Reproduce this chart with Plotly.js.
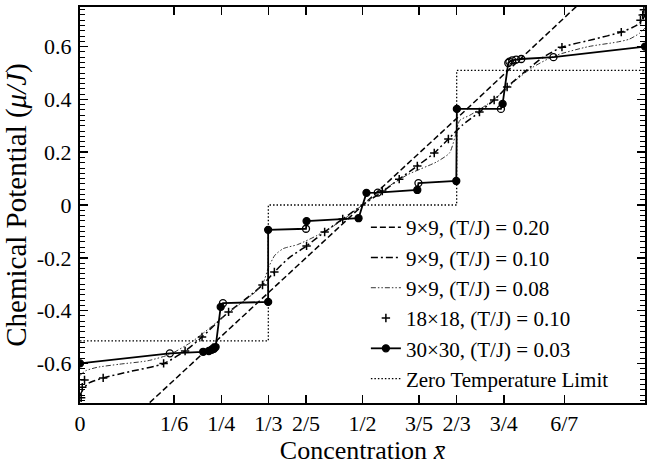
<!DOCTYPE html>
<html>
<head>
<meta charset="utf-8">
<script src="https://cdn.plot.ly/plotly-3.0.1.min.js"></script>
<style>html,body{margin:0;padding:0;background:#fff;}#chart{width:647px;height:468px;}</style>
</head>
<body>
<div id="chart"></div>
<script>
// ---- data ----
var t20_x = [0.10, 0.208, 0.353, 0.50, 0.512, 0.689, 0.90];
var t20_y = [-0.795, -0.580, -0.292, 0.0, 0.022, 0.372, 0.795];

var t10_x = [0, 0.005, 0.015, 0.041, 0.09, 0.147, 0.186, 0.216, 0.25, 0.263, 0.30, 0.323, 0.344, 0.37, 0.401, 0.433, 0.465, 0.50,
             0.535, 0.565, 0.597, 0.627, 0.652, 0.677, 0.707, 0.733, 0.756, 0.79, 0.82, 0.853, 0.91, 0.958, 0.985, 0.995, 1.0];
var t10_y = [-0.72, -0.70, -0.675, -0.655, -0.63, -0.602, -0.553, -0.50, -0.43, -0.405, -0.345, -0.303, -0.254, -0.20, -0.155, -0.102, -0.053, 0.0,
             0.05, 0.098, 0.148, 0.197, 0.25, 0.303, 0.352, 0.398, 0.447, 0.51, 0.56, 0.598, 0.628, 0.655, 0.68, 0.70, 0.72];

var t08_x = [0, 0.01, 0.03, 0.07, 0.12, 0.16, 0.20, 0.23, 0.25, 0.28, 0.31, 0.325, 0.333, 0.345, 0.36, 0.385, 0.42, 0.465, 0.50,
             0.535, 0.58, 0.631, 0.654, 0.664, 0.672, 0.69, 0.72, 0.75, 0.77, 0.80, 0.84, 0.90, 0.95, 0.972, 0.99, 1.0];
var t08_y = [-0.645, -0.628, -0.615, -0.603, -0.59, -0.565, -0.515, -0.465, -0.43, -0.38, -0.33, -0.29, -0.24, -0.19, -0.165, -0.15, -0.115, -0.057, 0.0,
             0.055, 0.115, 0.163, 0.197, 0.26, 0.32, 0.34, 0.38, 0.43, 0.47, 0.52, 0.565, 0.60, 0.617, 0.628, 0.65, 0.67];

var s18_x = [0.002, 0.004, 0.008, 0.041, 0.148, 0.186, 0.216, 0.263, 0.323, 0.344, 0.401, 0.433, 0.465, 0.535, 0.565, 0.597, 0.627, 0.652, 0.707, 0.733, 0.756, 0.853, 0.958, 0.992, 0.996, 0.998];
var s18_y = [-0.73, -0.69, -0.663, -0.655, -0.60, -0.553, -0.50, -0.405, -0.303, -0.254, -0.155, -0.102, -0.053, 0.053, 0.098, 0.148, 0.197, 0.25, 0.352, 0.398, 0.447, 0.598, 0.655, 0.70, 0.72, 0.74];

var s30_x = [0, 0.159, 0.218, 0.228, 0.233, 0.237, 0.240, 0.249, 0.253, 0.333, 0.333, 0.400, 0.401, 0.493, 0.507, 0.527, 0.597, 0.599, 0.666, 0.667,
             0.745, 0.748, 0.758, 0.760, 0.765, 0.772, 0.781, 0.838, 1.0];
var s30_y = [-0.60, -0.562, -0.556, -0.553, -0.549, -0.545, -0.538, -0.386, -0.372, -0.367, -0.094, -0.090, -0.061, -0.050, 0.046, 0.047, 0.057, 0.083, 0.091, 0.364,
             0.364, 0.383, 0.538, 0.543, 0.548, 0.551, 0.553, 0.560, 0.600];
var s30_filled = [1, 0, 1, 1, 1, 1, 1, 1, 0, 1, 1, 0, 1, 1, 1, 0, 1, 0, 1, 1, 0, 1, 0, 0, 0, 0, 0, 0, 1];

var zero_x = [0, 1/3, 1/3, 2/3, 2/3, 1];
var zero_y = [-0.515, -0.515, 0, 0, 0.51, 0.51];

var xTickVals = [0, 1/6, 1/4, 1/3, 2/5, 1/2, 3/5, 2/3, 3/4, 6/7, 1];
var xTickText = ['0', '1/6', '1/4', '1/3', '2/5', '1/2', '3/5', '2/3', '3/4', '6/7', '1'];
var yTickVals = [-0.6, -0.4, -0.2, 0, 0.2, 0.4, 0.6];
var yTickText = ['-0.6', '-0.4', '-0.2', '0', '0.2', '0.4', '0.6'];

var names = ['9\u00d79, (T/J) = 0.20', '9\u00d79, (T/J) = 0.10', '9\u00d79, (T/J) = 0.08',
             '18\u00d718, (T/J) = 0.10', '30\u00d730, (T/J) = 0.03', 'Zero Temperature Limit'];

// ---- traces ----
var traces = [
  {x: t20_x, y: t20_y, name: names[0], mode: 'lines', line: {color: '#000', width: 1.5, dash: '6px,3px'}},
  {x: t10_x, y: t10_y, name: names[1], mode: 'lines', line: {color: '#000', width: 1.5, dash: '7px,3px,2px,3px', shape: 'spline', smoothing: 0.6}},
  {x: t08_x, y: t08_y, name: names[2], mode: 'lines', line: {color: '#333', width: 1, dash: '5px,2px,1.5px,2px,1.5px,2px', shape: 'spline', smoothing: 0.6}},
  {x: s18_x, y: s18_y, name: names[3], mode: 'markers', marker: {symbol: 'cross-thin', size: 6, color: '#000', line: {color: '#000', width: 1.5}}},
  {x: s30_x, y: s30_y, name: names[4], mode: 'lines+markers', line: {color: '#000', width: 1.8},
    marker: {symbol: s30_filled.map(function(f){return f ? 'circle' : 'circle-open';}), size: 7, color: '#000', line: {color: '#000', width: 1.3}}},
  {x: zero_x, y: zero_y, name: names[5], mode: 'lines', line: {color: '#000', width: 1.3, dash: '1.5px,2px'}}
];

var serif = 'Liberation Serif, Times New Roman, serif';
var layout = {
  width: 647, height: 468,
  margin: {l: 80, r: 2, t: 7, b: 65},
  paper_bgcolor: '#fff', plot_bgcolor: '#fff',
  showlegend: true,
  legend: {x: 0.506, y: 0.495, xanchor: 'left', yanchor: 'top', bgcolor: 'rgba(0,0,0,0)',
           font: {family: serif, size: 21, color: '#000'}, tracegroupgap: 0, itemwidth: 30},
  font: {family: serif, color: '#000'},
  xaxis: {
    range: [0, 1], showgrid: false, zeroline: false,
    showline: true, linecolor: '#000', linewidth: 2, mirror: 'ticks',
    ticks: 'inside', ticklen: 8, tickwidth: 1.5, tickcolor: '#000',
    tickmode: 'array', tickvals: xTickVals, ticktext: xTickText,
    tickfont: {family: serif, size: 22, color: '#000'},
    title: {text: 'Concentration <i>x\u0304</i>', font: {family: serif, size: 26, color: '#000'}, standoff: 4}
  },
  yaxis: {
    range: [-0.75, 0.75], showgrid: false, zeroline: false,
    showline: true, linecolor: '#000', linewidth: 2, mirror: 'ticks',
    ticks: 'inside', ticklen: 8, tickwidth: 1.5, tickcolor: '#000',
    tickmode: 'array', tickvals: yTickVals, ticktext: yTickText,
    minor: {dtick: 0.02, tick0: 0, ticklen: 5, tickwidth: 1, tickcolor: '#000', ticks: 'inside', showgrid: false},
    tickfont: {family: serif, size: 22, color: '#000'},
    ticklabelstandoff: 2,
    title: {text: 'Chemical Potential (<i>\u03bc/J</i>)', font: {family: serif, size: 29, color: '#000'}, standoff: 4}
  }
};

Plotly.newPlot('chart', traces, layout, {displayModeBar: false, staticPlot: true});
</script>
</body>
</html>
